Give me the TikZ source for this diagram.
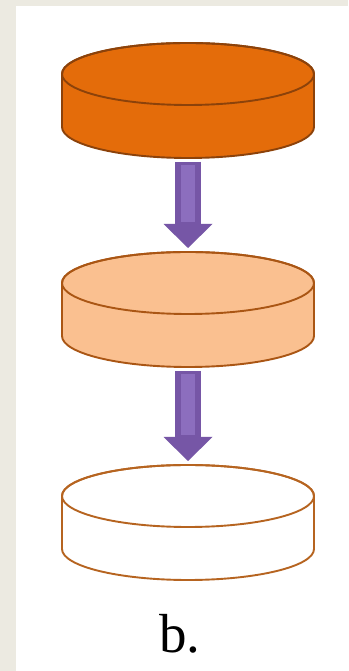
\documentclass[tikz,border=0pt]{standalone}
\usepackage{fontspec}
\setmainfont{Liberation Serif}
\usetikzlibrary{arrows.meta, positioning}
\definecolor{framebeige}{RGB}{236, 234, 225}
\definecolor{darkorange}{RGB}{228, 108, 10}
\definecolor{darkrim}{RGB}{140, 66, 10}
\definecolor{lightorange}{RGB}{250, 192, 144}
\definecolor{midrim}{RGB}{170, 86, 20}
\definecolor{paperrim}{RGB}{182, 100, 32}
\definecolor{arrowpurple}{RGB}{118, 86, 166}
\definecolor{arrowlight}{RGB}{140, 110, 190}
\tikzset{
  rim/.style={line width=1.9pt, draw=#1, line join=round},
  flow/.style={line width=26pt, color=arrowpurple, shorten <=4pt, shorten >=4pt,
               -{Triangle[width=49pt, length=24pt, line width=0pt]}},
  flowlight/.style={line width=14pt, color=arrowlight, shorten <=7pt, shorten >=30pt},
}
% name, y of top centre, fill, rim colour
\newcommand{\drawdisk}[4]{
  \coordinate (#1-top) at (188,#2+31);
  \coordinate (#1-bot) at (188,#2-84);
  \filldraw[rim=#4, fill=#3] (62,#2) -- (62,#2-53)
    arc[start angle=180, end angle=360, x radius=126, y radius=31] -- (314,#2)
    arc[start angle=0, end angle=180, x radius=126, y radius=31] -- cycle;
  \draw[rim=#4] (188,#2) ellipse[x radius=126, y radius=31];
}

\begin{document}
\begin{tikzpicture}[x=1pt, y=1pt]
  \useasboundingbox (0,0) rectangle (348,671);
  \fill[framebeige] (0,0) rectangle (348,671);
  \fill[white] (16,0) rectangle (348,665);

  \drawdisk{disktop}{597}{darkorange}{darkrim}
  \drawdisk{diskmid}{388}{lightorange}{midrim}
  \drawdisk{diskbot}{175}{white}{paperrim}

  \draw[flow] (disktop-bot) -- (diskmid-top);
  \draw[flowlight] (disktop-bot) -- (diskmid-top);
  \draw[flow] (diskmid-bot) -- (diskbot-top);
  \draw[flowlight] (diskmid-bot) -- (diskbot-top);

  \node[font=\fontsize{55}{60}\selectfont, anchor=base] (caption) at (180,18) {b.};
\end{tikzpicture}
\end{document}
